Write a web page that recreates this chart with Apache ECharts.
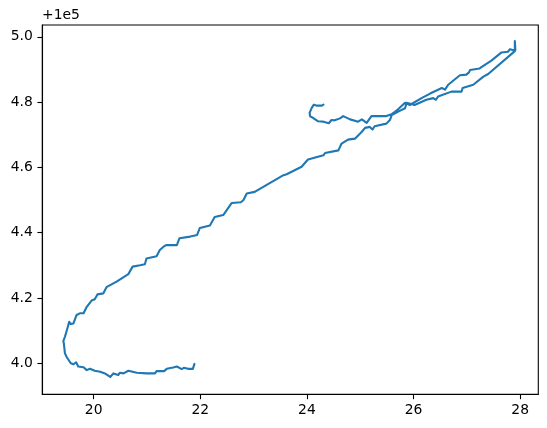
<!DOCTYPE html>
<html>
<head>
<meta charset="utf-8">
<script src="https://cdn.jsdelivr.net/npm/echarts@6/dist/echarts.min.js"></script>
<style>
html,body{margin:0;padding:0;background:#fff;}
#chart{width:547px;height:428px;}
</style>
</head>
<body>
<div id="chart"></div>
<script>
// y values are shown relative to an offset of 1e5 (as in the source: "+1e5")
const yOffsetLabel = '+1e5';
const xs = [21.89,21.86,21.77,21.69,21.65,21.56,21.49,21.37,21.32,21.18,
  21.15,20.99,20.81,20.65,20.56,20.49,20.46,20.37,20.31,20.21,
  20.12,20.02,19.93,19.87,19.81,19.71,19.69,19.67,19.62,19.57,
  19.54,19.49,19.46,19.44,19.43,19.46,19.48,19.51,19.54,19.57,
  19.62,19.68,19.74,19.81,19.87,19.96,20.02,20.07,20.18,20.24,
  20.43,20.65,20.73,20.87,20.96,20.99,21.18,21.24,21.31,21.34,
  21.36,21.56,21.61,21.81,21.94,21.99,22.18,22.27,22.43,22.59,
  22.76,22.81,22.84,22.87,23.02,23.56,23.62,23.90,23.93,24.02,
  24.31,24.34,24.59,24.65,24.77,24.90,25.03,25.09,25.18,25.23,
  25.27,25.49,25.56,25.59,25.74,25.84,25.87,26.02,26.24,26.37,
  26.42,26.46,26.71,26.90,26.92,27.12,27.15,27.31,27.40,27.90,
  27.90,27.91,27.87,27.81,27.77,27.65,27.62,27.46,27.43,27.28,
  27.24,27.06,27.04,26.99,26.87,26.65,26.59,26.53,26.31,26.15,
  25.93,25.84,25.71,25.65,25.59,25.49,25.21,25.12,25.03,24.96,
  24.81,24.68,24.62,24.52,24.46,24.41,24.31,24.21,24.12,24.06,
  24.05,24.09,24.13,24.19,24.22,24.28,24.31];
const ys = [3.998,3.983,3.983,3.986,3.982,3.990,3.987,3.983,3.976,3.976,
  3.969,3.969,3.971,3.977,3.969,3.971,3.964,3.969,3.958,3.969,
  3.974,3.977,3.983,3.979,3.988,3.990,3.986,4.003,3.997,4.000,
  4.005,4.020,4.031,4.061,4.068,4.081,4.092,4.109,4.127,4.120,
  4.122,4.148,4.153,4.153,4.173,4.192,4.196,4.211,4.214,4.233,
  4.250,4.273,4.296,4.300,4.303,4.321,4.328,4.347,4.357,4.352,
  4.362,4.362,4.383,4.388,4.393,4.414,4.422,4.448,4.454,4.491,
  4.493,4.500,4.498,4.520,4.525,4.576,4.579,4.602,4.600,4.624,
  4.637,4.644,4.652,4.673,4.685,4.688,4.709,4.721,4.724,4.716,
  4.726,4.734,4.746,4.760,4.773,4.781,4.798,4.791,4.807,4.812,
  4.807,4.817,4.832,4.832,4.843,4.853,4.848,4.878,4.886,4.956,
  4.987,4.959,4.959,4.962,4.954,4.952,4.956,4.927,4.931,4.908,
  4.903,4.898,4.891,4.884,4.882,4.853,4.838,4.843,4.826,4.812,
  4.791,4.798,4.778,4.770,4.763,4.757,4.757,4.736,4.747,4.740,
  4.747,4.757,4.750,4.744,4.745,4.735,4.740,4.741,4.751,4.756,
  4.767,4.782,4.792,4.789,4.795,4.789,4.792];
const xTicks = [20, 22, 24, 26, 28];
const yTicks = [4.0, 4.2, 4.4, 4.6, 4.8, 5.0];

const points = xs.map((x, i) => [x, ys[i]]);
const font = 'DejaVu Sans';
const chart = echarts.init(document.getElementById('chart'), null, {renderer: 'canvas'});
chart.setOption({
  animation: false,
  backgroundColor: '#ffffff',
  grid: {left: 42.3, top: 25, right: 8.7, bottom: 33.7, show: true,
    borderColor: '#000', borderWidth: 1.1, containLabel: false},
  xAxis: {
    type: 'value', min: 19.036, max: 28.34,
    axisLine: {show: true, onZero: false, lineStyle: {color: '#000', width: 1.1}},
    axisTick: {show: true, inside: false, length: 4.9, customValues: xTicks,
      lineStyle: {color: '#000', width: 1.1}},
    axisLabel: {show: true, customValues: xTicks, margin: 9, color: '#000',
      fontFamily: font, fontSize: 13.9, formatter: v => String(Math.round(v))},
    splitLine: {show: false}
  },
  yAxis: {
    type: 'value', min: 3.905, max: 5.036,
    axisLine: {show: true, onZero: false, lineStyle: {color: '#000', width: 1.1}},
    axisTick: {show: true, inside: false, length: 4.9, customValues: yTicks,
      lineStyle: {color: '#000', width: 1.1}},
    axisLabel: {show: true, customValues: yTicks, margin: 9.5, color: '#000',
      fontFamily: font, fontSize: 13.9, formatter: v => v.toFixed(1)},
    splitLine: {show: false}
  },
  graphic: [{
    type: 'text', left: 42, top: 8,
    style: {text: yOffsetLabel, fill: '#000', font: '13.9px "DejaVu Sans"'}
  }],
  series: [{
    type: 'line', data: points, showSymbol: false, smooth: false,
    clip: true,
    lineStyle: {color: '#1f77b4', width: 2.1, join: 'round', cap: 'round'}
  }]
});
</script>
</body>
</html>
